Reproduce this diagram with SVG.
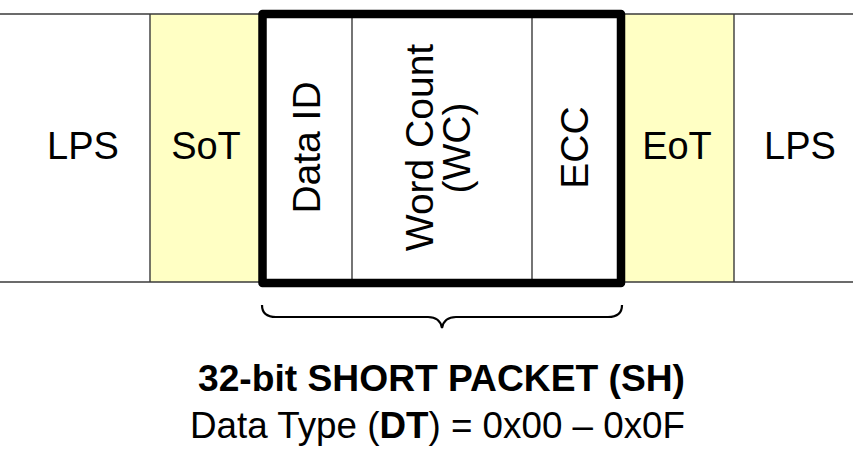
<svg xmlns="http://www.w3.org/2000/svg" width="853" height="449" viewBox="0 0 853 449">
  <style>
    .lbl { font-family: "Liberation Sans", Arial, sans-serif; font-size: 38px; fill: #000; text-anchor: middle; }
    .vlbl { font-family: "Liberation Sans", Arial, sans-serif; font-size: 39px; fill: #000; text-anchor: middle; }
    .thin { stroke: #3a3a3a; stroke-width: 1.4; fill: none; }
    .sync { fill: #FFFFC4; }
    .cap { font-family: "Liberation Sans", Arial, sans-serif; fill: #000; text-anchor: middle; }
  </style>
  <rect width="853" height="449" fill="#fff"/>

  <!-- link-state lanes -->
  <g id="lps-left">
    <text class="lbl" x="83" y="159">LPS</text>
  </g>
  <g id="sot">
    <rect class="sync" x="150" y="14" width="112" height="268"/>
    <text class="lbl" x="206" y="159">SoT</text>
  </g>
  <g id="eot">
    <rect class="sync" x="621" y="14" width="113" height="268"/>
    <text class="lbl" x="677" y="159">EoT</text>
  </g>
  <g id="lps-right">
    <text class="lbl" x="800" y="159">LPS</text>
  </g>

  <!-- lane borders -->
  <g id="lane-lines">
    <line class="thin" x1="0" y1="14" x2="853" y2="14"/>
    <line class="thin" x1="0" y1="282" x2="853" y2="282"/>
    <line class="thin" x1="150" y1="14" x2="150" y2="282"/>
    <line class="thin" x1="734" y1="14" x2="734" y2="282"/>
  </g>

  <!-- short packet fields -->
  <g id="packet">
    <rect x="262.5" y="14" width="358.5" height="269" fill="#fff"/>
    <line class="thin" x1="352" y1="14" x2="352" y2="283"/>
    <line class="thin" x1="532" y1="14" x2="532" y2="283"/>
    <rect x="262.5" y="14" width="358.5" height="269" fill="none" stroke="#000" stroke-width="8.5" stroke-linejoin="round"/>
  </g>
  <g id="data-id">
    <text class="vlbl" transform="translate(320,147.5) rotate(-90)">Data ID</text>
  </g>
  <g id="word-count">
    <text class="vlbl" transform="translate(432.5,147.5) rotate(-90)">Word Count</text>
    <text class="vlbl" transform="translate(470,148) rotate(-90)">(WC)</text>
  </g>
  <g id="ecc">
    <text class="vlbl" transform="translate(588,147.5) rotate(-90)">ECC</text>
  </g>

  <!-- brace under the packet -->
  <g id="connectors">
    <path d="M262,305 Q262,317 276,317 L428,317 Q440,317 442,328 Q444,317 456,317 L608,317 Q622,317 622,305" fill="none" stroke="#000" stroke-width="2.2"/>
  </g>

  <g id="caption">
    <text class="cap" x="441.5" y="391" font-size="36" font-weight="bold" textLength="487" lengthAdjust="spacingAndGlyphs">32-bit SHORT PACKET (SH)</text>
    <text class="cap" x="437.5" y="438" font-size="36" textLength="495" lengthAdjust="spacingAndGlyphs">Data Type (<tspan font-weight="bold">DT</tspan>) = 0x00 – 0x0F</text>
  </g>
</svg>
